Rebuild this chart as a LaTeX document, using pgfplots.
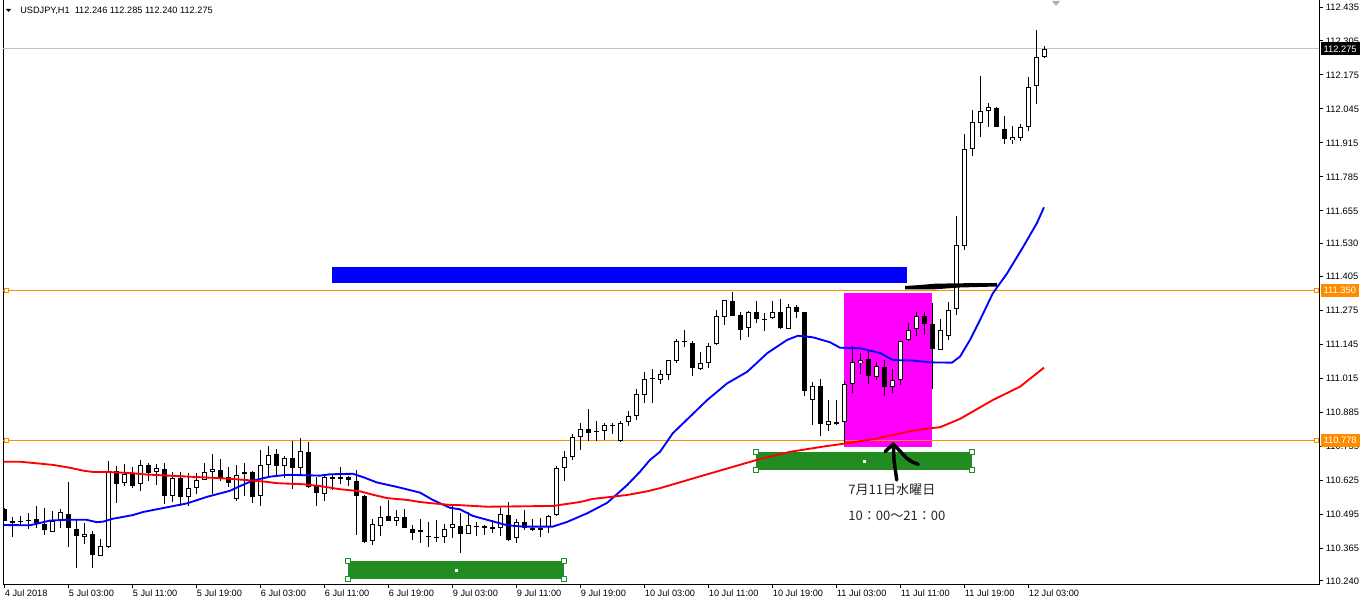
\documentclass[border=0pt]{standalone}
\usepackage{pgfplots}
\pgfplotsset{compat=1.18}
\usepackage{pgfplotstable}
\usepackage{fontspec}
\setmainfont{Liberation Sans}
\newfontfamily\jp{Noto Sans CJK JP}
\definecolor{dorange}{HTML}{FF8C00}
\definecolor{fgreen}{HTML}{228B22}
\definecolor{lgray}{HTML}{C0C0C0}
\definecolor{mag}{HTML}{FF00FF}
\definecolor{pblue}{HTML}{0000FF}
\definecolor{pred}{HTML}{FF0000}

\pgfplotstableread{
i o h l c
0 110.514 110.519 110.469 110.471
1 110.470 110.484 110.410 110.463
2 110.469 110.490 110.457 110.467
3 110.474 110.503 110.440 110.471
4 110.477 110.527 110.444 110.461
5 110.459 110.520 110.417 110.436
6 110.430 110.508 110.428 110.472
7 110.472 110.515 110.442 110.503
8 110.499 110.619 110.371 110.444
9 110.442 110.480 110.292 110.413
10 110.411 110.465 110.384 110.419
11 110.422 110.430 110.289 110.342
12 110.338 110.401 110.336 110.377
13 110.373 110.699 110.365 110.662
14 110.660 110.680 110.539 110.610
15 110.615 110.688 110.601 110.648
16 110.652 110.676 110.597 110.605
17 110.610 110.703 110.585 110.683
18 110.686 110.692 110.624 110.654
19 110.658 110.690 110.608 110.671
20 110.667 110.692 110.536 110.566
21 110.566 110.657 110.543 110.634
22 110.634 110.657 110.528 110.562
23 110.562 110.653 110.528 110.598
24 110.595 110.653 110.573 110.625
25 110.627 110.692 110.625 110.656
26 110.660 110.726 110.573 110.671
27 110.667 110.709 110.625 110.637
28 110.637 110.676 110.601 110.614
29 110.555 110.683 110.547 110.644
30 110.657 110.691 110.566 110.650
31 110.657 110.661 110.539 110.562
32 110.566 110.741 110.528 110.686
33 110.686 110.756 110.637 110.725
34 110.728 110.745 110.637 110.679
35 110.679 110.718 110.633 110.713
36 110.713 110.775 110.593 110.675
37 110.671 110.787 110.648 110.736
38 110.736 110.772 110.597 110.601
39 110.602 110.640 110.528 110.578
40 110.574 110.644 110.547 110.637
41 110.637 110.648 110.589 110.631
42 110.636 110.675 110.612 110.633
43 110.640 110.643 110.605 110.625
44 110.625 110.667 110.417 110.566
45 110.565 110.567 110.387 110.389
46 110.394 110.477 110.379 110.457
47 110.452 110.526 110.413 110.484
48 110.489 110.552 110.470 110.471
49 110.471 110.512 110.452 110.488
50 110.484 110.518 110.444 110.445
51 110.442 110.453 110.398 110.425
52 110.434 110.480 110.387 110.431
53 110.413 110.465 110.371 110.411
54 110.410 110.472 110.387 110.409
55 110.409 110.457 110.387 110.438
56 110.442 110.530 110.403 110.457
57 110.453 110.499 110.348 110.419
58 110.422 110.503 110.419 110.453
59 110.452 110.465 110.413 110.451
60 110.453 110.454 110.419 110.445
61 110.445 110.476 110.426 110.443
62 110.442 110.518 110.411 110.495
63 110.495 110.541 110.392 110.400
64 110.403 110.476 110.384 110.465
65 110.468 110.514 110.436 110.445
66 110.445 110.480 110.433 110.434
67 110.438 110.480 110.407 110.445
68 110.449 110.492 110.423 110.491
69 110.494 110.679 110.488 110.675
70 110.671 110.736 110.624 110.713
71 110.717 110.805 110.705 110.793
72 110.793 110.847 110.744 110.820
73 110.820 110.900 110.778 110.805
74 110.809 110.855 110.778 110.816
75 110.816 110.843 110.778 110.836
76 110.839 110.847 110.805 110.834
77 110.774 110.851 110.772 110.843
78 110.847 110.889 110.832 110.870
79 110.870 110.977 110.858 110.954
80 110.954 111.039 110.920 111.015
81 111.018 111.053 110.920 111.015
82 111.011 111.046 110.996 111.031
83 111.027 111.088 111.008 111.084
84 111.080 111.164 111.072 111.157
85 111.156 111.199 111.134 111.158
86 111.153 111.157 111.023 111.057
87 111.053 111.118 111.046 111.076
88 111.076 111.149 111.053 111.141
89 111.145 111.275 111.141 111.252
90 111.252 111.314 111.218 111.314
91 111.310 111.348 111.256 111.256
92 111.260 111.268 111.161 111.203
93 111.206 111.275 111.176 111.268
94 111.271 111.310 111.226 111.241
95 111.242 111.264 111.195 111.240
96 111.245 111.310 111.244 111.268
97 111.268 111.321 111.203 111.210
98 111.206 111.298 111.203 111.290
99 111.290 111.294 111.244 111.271
100 111.268 111.268 110.950 110.966
101 110.935 111.000 110.836 110.988
102 110.985 111.015 110.797 110.839
103 110.835 110.931 110.816 110.851
104 110.847 110.935 110.839 110.842
105 110.847 111.004 110.763 110.992
106 110.992 111.141 110.958 111.076
107 111.073 111.111 111.031 111.084
108 111.088 111.122 110.996 111.023
109 111.023 111.080 111.008 111.065
110 111.061 111.088 110.950 110.981
111 110.981 111.053 110.958 111.011
112 111.008 111.157 110.992 111.157
113 111.161 111.229 111.157 111.199
114 111.203 111.271 111.180 111.252
115 111.252 111.271 111.183 111.222
116 111.222 111.302 110.973 111.126
117 111.122 111.242 111.122 111.199
118 111.177 111.308 111.164 111.279
119 111.283 111.636 111.256 111.528
120 111.522 111.949 111.506 111.891
121 111.891 112.044 111.868 111.994
122 111.994 112.171 111.937 112.040
123 112.036 112.068 111.979 112.052
124 112.048 112.052 111.975 111.977
125 111.967 112.017 111.910 111.929
126 111.926 111.983 111.912 111.941
127 111.936 111.987 111.921 111.975
128 111.979 112.170 111.960 112.132
129 112.132 112.346 112.063 112.243
130 112.246 112.285 112.240 112.275
}\candles

\pgfplotstableread{
i v
0 110.454
3.25 110.453
5.75 110.471
7.8 110.474
10.3 110.474
11.6 110.465
12.4 110.467
13.6 110.478
16.1 110.492
17.4 110.504
20.4 110.522
22.9 110.537
25.4 110.562
28.25 110.585
29.5 110.603
31.1 110.624
33.25 110.639
35.4 110.646
39.5 110.643
40.75 110.648
43.6 110.650
44.9 110.637
46.6 110.617
49.5 110.597
52 110.578
53.6 110.550
55.75 110.520
57 110.514
58.6 110.489
61.1 110.468
62.9 110.453
64.9 110.448
68.6 110.448
70.4 110.466
72.9 110.499
75.4 110.539
77.9 110.607
79.5 110.658
80.75 110.703
82 110.734
83.6 110.805
87.9 110.932
90.4 110.996
92.9 111.040
95.4 111.111
97.9 111.162
99.25 111.178
101.1 111.172
103.25 111.153
104.5 111.132
107 111.130
109.5 111.112
111.1 111.085
113.6 111.083
115.75 111.076
118.5 111.075
119.5 111.098
120.75 111.162
122 111.238
123.6 111.340
125.4 111.417
127.4 111.518
129.1 111.608
130 111.669
}\bluema

\pgfplotstableread{
i v
0 110.696
2 110.696
4.1 110.690
6.1 110.684
8.25 110.673
9.9 110.662
11.1 110.657
12.9 110.657
16.1 110.652
17.9 110.647
21.1 110.642
24.5 110.637
28.25 110.631
31.1 110.624
32.9 110.619
34.1 110.614
37.4 110.610
39.5 110.603
42 110.591
44.5 110.583
46.1 110.570
47.9 110.557
50.4 110.550
52 110.542
53.6 110.537
55.75 110.531
57 110.530
60.4 110.524
68.6 110.527
70.4 110.535
72 110.542
73.6 110.554
75.4 110.560
77.9 110.569
80.4 110.583
82 110.595
87 110.640
94.1 110.703
98.25 110.734
102.4 110.754
105.4 110.767
108.6 110.782
111.1 110.798
113.6 110.815
115.75 110.824
117 110.828
119.5 110.860
123.6 110.932
127 110.983
130 111.056
}\redma

\begin{document}
\begin{tikzpicture}[x=0.75pt,y=0.75pt,
  hnd/.style={draw=fgreen, fill=white, line width=0.75pt, minimum size=3.5pt, inner sep=0pt},
  ohnd/.style={draw=dorange, fill=white, line width=0.75pt, minimum size=3pt, inner sep=0pt}]
\path[use as bounding box, fill=white] (0,0) rectangle (1365,601);
\begin{axis}[
  at={(2.25pt,12.75pt)}, anchor=south west,
  scale only axis, width=987pt, height=438pt,
  xmin=-0.125, xmax=164.375, ymin=110.2285, ymax=112.4618,
  axis line style={draw=none},
  clip mode=individual,
  tick align=outside,
  major tick length=3pt,
  tick style={black, line width=0.75pt},
  xtick pos=left, ytick pos=right,
  xticklabel pos=left, yticklabel pos=right,
  xtick={0,8,...,128},
  xticklabels={4 Jul 2018,5 Jul 03:00,5 Jul 11:00,5 Jul 19:00,6 Jul 03:00,6 Jul 11:00,6 Jul 19:00,9 Jul 03:00,9 Jul 11:00,9 Jul 19:00,10 Jul 03:00,10 Jul 11:00,10 Jul 19:00,11 Jul 03:00,11 Jul 11:00,11 Jul 19:00,12 Jul 03:00},
  ytick={110.240,110.365,110.495,110.625,110.755,110.885,111.015,111.145,111.275,111.405,111.530,111.655,111.785,111.915,112.045,112.175,112.305,112.435},
  yticklabels={110.240,110.365,110.495,110.625,110.755,110.885,111.015,111.145,111.275,111.405,111.530,111.655,111.785,111.915,112.045,112.175,112.305,112.435},
  xticklabel style={font=\fontsize{6.9}{8}\selectfont, anchor=north west, inner sep=0pt, xshift=0.5pt, yshift=-1.5pt},
  yticklabel style={font=\fontsize{7}{8}\selectfont, anchor=west, inner sep=0pt, xshift=2pt},
]
% frame
\draw[black, line width=0.75pt] (rel axis cs:0,1) -- (rel axis cs:0,0) -- (rel axis cs:1,0) -- (rel axis cs:1,1);
% rectangles
\fill[fgreen] (axis cs:43,110.2465) rectangle (axis cs:70,110.3153);
\fill[fgreen] (axis cs:94,110.6634) rectangle (axis cs:121,110.7322);
\fill[mag] (axis cs:105,110.7536) rectangle (axis cs:116,111.3425);
\fill[pblue] (axis cs:41,111.3796) rectangle (axis cs:112.875,111.4408);
% horizontal lines
\draw[lgray, line width=0.75pt] (axis cs:-0.125,112.275) -- (axis cs:164.375,112.275);
\draw[dorange, line width=0.75pt] (axis cs:-0.125,111.350) -- (axis cs:164.375,111.350);
\draw[dorange, line width=0.75pt] (axis cs:-0.125,110.778) -- (axis cs:164.375,110.778);
% candles: wicks
\addplot[draw=none, mark=none, forget plot,
  error bars/.cd, y dir=both, y explicit, error mark=none,
  error bar style={draw=black, line width=0.75pt}]
  table[x=i, y expr={(\thisrow{h}+\thisrow{l})/2}, y error expr={(\thisrow{h}-\thisrow{l})/2}] {\candles};
% bodies (black)
\addplot[draw=none, mark=none, forget plot,
  error bars/.cd, y dir=both, y explicit, error mark=none,
  error bar style={draw=black, line width=3.75pt}]
  table[x=i, y expr={(\thisrow{o}+\thisrow{c})/2}, y error expr={max(abs(\thisrow{o}-\thisrow{c})/2,0.0019)}] {\candles};
% white interiors for rising candles
\addplot[draw=none, mark=none, forget plot,
  error bars/.cd, y dir=both, y explicit, error mark=none,
  error bar style={draw=white, line width=2.25pt}]
  table[x=i, y expr={(\thisrow{o}+\thisrow{c})/2}, y error expr={max((\thisrow{c}-\thisrow{o})/2-0.0038,0)}] {\candles};
% moving averages
\addplot[pblue, line width=1.4pt, mark=none] table[x=i,y=v] {\bluema};
\addplot[pred, line width=1.4pt, mark=none] table[x=i,y=v] {\redma};
% hand-drawn marks
\fill[black] (axis cs:112.625,111.3681) -- (axis cs:114.5,111.3719) -- (axis cs:116.375,111.3769) -- (axis cs:119.5,111.3785) -- (axis cs:124.125,111.3796) -- (axis cs:124.125,111.3662) -- (axis cs:119.5,111.3624) -- (axis cs:116.375,111.3555) -- (axis cs:114.5,111.3547) -- (axis cs:112.625,111.3555) -- cycle;
\draw[black, line width=2.6pt, line cap=round, line join=round] (axis cs:110.125,110.7345) -- (axis cs:111.16,110.7639) -- (axis cs:111.25,110.7027) -- (axis cs:111.59,110.6262);
\draw[black, line width=2.6pt, line cap=round, line join=round] (axis cs:111.16,110.7639) -- (axis cs:112.84,110.7092) -- (axis cs:113.6,110.6940) -- (axis cs:114.29,110.6863);
% handles
\node[hnd] at (axis cs:43,110.2465) {};
\node[hnd] at (axis cs:43,110.3153) {};
\node[hnd] at (axis cs:70,110.2465) {};
\node[hnd] at (axis cs:70,110.3153) {};
\node[hnd] at (axis cs:94,110.6634) {};
\node[hnd] at (axis cs:94,110.7322) {};
\node[hnd] at (axis cs:121,110.6634) {};
\node[hnd] at (axis cs:121,110.7322) {};
\node[fill=white, minimum size=2.25pt, inner sep=0pt] at (axis cs:56.5,110.2809) {};
\node[fill=white, minimum size=2.25pt, inner sep=0pt] at (axis cs:107.54,110.6978) {};
\node[ohnd] at (axis cs:0.25,111.350) {};
\node[ohnd] at (axis cs:164.0,111.350) {};
\node[ohnd] at (axis cs:0.25,110.778) {};
\node[ohnd] at (axis cs:164.0,110.778) {};
% texts
\node[anchor=west, inner sep=0pt, font=\jp\fontsize{9.8}{11}\selectfont, text=black!85] at (axis cs:105.5,110.588) {7月11日水曜日};
\node[anchor=west, inner sep=0pt, font=\jp\fontsize{9.8}{11}\selectfont, text=black!85] at (axis cs:105.5,110.489) {10：00～21：00};
% label anchors
\coordinate (Lcur) at (axis cs:164.375,112.275);
\coordinate (Lone) at (axis cs:164.375,111.350);
\coordinate (Ltwo) at (axis cs:164.375,110.778);
\end{axis}
% price labels
\node[anchor=west, fill=black, text=white, inner xsep=2.25pt, inner ysep=0pt, minimum height=9.75pt, font=\fontsize{7}{8}\selectfont, xshift=1pt] at (Lcur) {112.275};
\node[anchor=west, fill=dorange, text=white, inner xsep=2.25pt, inner ysep=0pt, minimum height=9.75pt, font=\fontsize{7}{8}\selectfont, xshift=1pt] at (Lone) {111.350};
\node[anchor=west, fill=dorange, text=white, inner xsep=2.25pt, inner ysep=0pt, minimum height=9.75pt, font=\fontsize{7}{8}\selectfont, xshift=1pt] at (Ltwo) {110.778};
% header
\fill[black] (6,592) -- (11,592) -- (8.5,589) -- cycle;
\node[anchor=west, inner sep=0pt, font=\fontsize{6.9}{8}\selectfont] at (20,590.5) {USDJPY,H1\ \ 112.246 112.285 112.240 112.275};
\fill[gray!60] (1052,600) -- (1060,600) -- (1056,595) -- cycle;
\end{tikzpicture}
\end{document}
